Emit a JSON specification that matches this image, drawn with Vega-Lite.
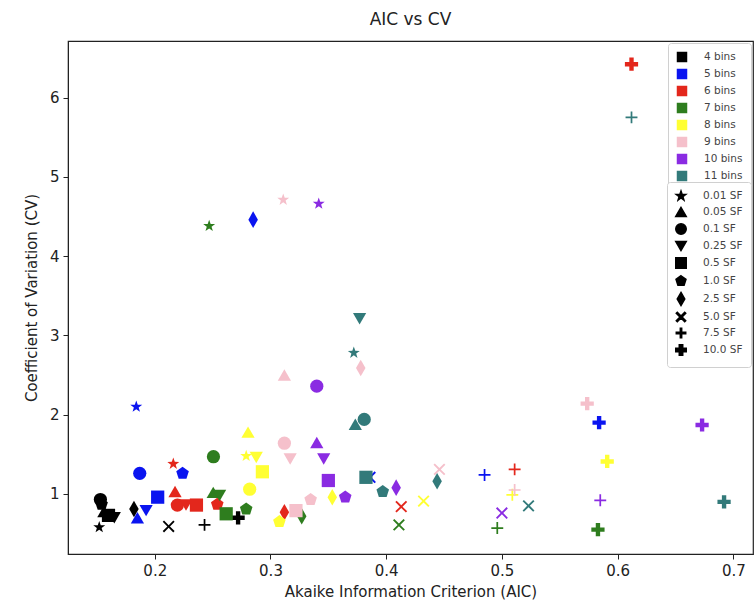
{
  "$schema": "https://vega.github.io/schema/vega-lite/v6.json",
  "width": 685,
  "height": 513,
  "autosize": {"type": "none"},
  "padding": {"left": 68, "top": 41, "right": 2, "bottom": 62},
  "background": "white",
  "title": {"text": "AIC vs CV", "fontSize": 17, "font": "DejaVu Sans", "fontWeight": "normal", "color": "#222", "offset": 12},
  "config": {
    "font": "DejaVu Sans",
    "view": {"stroke": "#222", "strokeWidth": 1.2},
    "axis": {"grid": false, "domainColor": "#222", "tickColor": "#222", "labelColor": "#222", "titleColor": "#222", "labelFontSize": 15, "titleFontSize": 15, "titleFontWeight": "normal", "tickSize": 5},
    "legend": {"labelFontSize": 10.5, "labelColor": "#444", "padding": 8, "labelOffset": 16, "strokeColor": "#d0d0d0", "fillColor": "white", "cornerRadius": 3, "rowPadding": 5}
  },
  "data": {"values": [
    {"aic": 0.152, "cv": 0.58, "bins": "4 bins", "sf": "0.01 SF"},
    {"aic": 0.156, "cv": 0.78, "bins": "4 bins", "sf": "0.05 SF"},
    {"aic": 0.153, "cv": 0.93, "bins": "4 bins", "sf": "0.1 SF"},
    {"aic": 0.165, "cv": 0.70, "bins": "4 bins", "sf": "0.25 SF"},
    {"aic": 0.160, "cv": 0.73, "bins": "4 bins", "sf": "0.5 SF"},
    {"aic": 0.154, "cv": 0.87, "bins": "4 bins", "sf": "1.0 SF"},
    {"aic": 0.182, "cv": 0.81, "bins": "4 bins", "sf": "2.5 SF"},
    {"aic": 0.212, "cv": 0.59, "bins": "4 bins", "sf": "5.0 SF"},
    {"aic": 0.243, "cv": 0.61, "bins": "4 bins", "sf": "7.5 SF"},
    {"aic": 0.272, "cv": 0.70, "bins": "4 bins", "sf": "10.0 SF"},
    {"aic": 0.184, "cv": 2.10, "bins": "5 bins", "sf": "0.01 SF"},
    {"aic": 0.185, "cv": 0.70, "bins": "5 bins", "sf": "0.05 SF"},
    {"aic": 0.187, "cv": 1.26, "bins": "5 bins", "sf": "0.1 SF"},
    {"aic": 0.1925, "cv": 0.79, "bins": "5 bins", "sf": "0.25 SF"},
    {"aic": 0.2025, "cv": 0.96, "bins": "5 bins", "sf": "0.5 SF"},
    {"aic": 0.224, "cv": 1.26, "bins": "5 bins", "sf": "1.0 SF"},
    {"aic": 0.285, "cv": 4.46, "bins": "5 bins", "sf": "2.5 SF"},
    {"aic": 0.386, "cv": 1.21, "bins": "5 bins", "sf": "5.0 SF"},
    {"aic": 0.485, "cv": 1.24, "bins": "5 bins", "sf": "7.5 SF"},
    {"aic": 0.584, "cv": 1.90, "bins": "5 bins", "sf": "10.0 SF"},
    {"aic": 0.216, "cv": 1.38, "bins": "6 bins", "sf": "0.01 SF"},
    {"aic": 0.2175, "cv": 1.03, "bins": "6 bins", "sf": "0.05 SF"},
    {"aic": 0.2195, "cv": 0.86, "bins": "6 bins", "sf": "0.1 SF"},
    {"aic": 0.227, "cv": 0.86, "bins": "6 bins", "sf": "0.25 SF"},
    {"aic": 0.236, "cv": 0.86, "bins": "6 bins", "sf": "0.5 SF"},
    {"aic": 0.254, "cv": 0.87, "bins": "6 bins", "sf": "1.0 SF"},
    {"aic": 0.312, "cv": 0.77, "bins": "6 bins", "sf": "2.5 SF"},
    {"aic": 0.413, "cv": 0.84, "bins": "6 bins", "sf": "5.0 SF"},
    {"aic": 0.511, "cv": 1.31, "bins": "6 bins", "sf": "7.5 SF"},
    {"aic": 0.612, "cv": 6.42, "bins": "6 bins", "sf": "10.0 SF"},
    {"aic": 0.247, "cv": 4.38, "bins": "7 bins", "sf": "0.01 SF"},
    {"aic": 0.2505, "cv": 1.02, "bins": "7 bins", "sf": "0.05 SF"},
    {"aic": 0.2507, "cv": 1.47, "bins": "7 bins", "sf": "0.1 SF"},
    {"aic": 0.256, "cv": 0.98, "bins": "7 bins", "sf": "0.25 SF"},
    {"aic": 0.2617, "cv": 0.75, "bins": "7 bins", "sf": "0.5 SF"},
    {"aic": 0.279, "cv": 0.81, "bins": "7 bins", "sf": "1.0 SF"},
    {"aic": 0.327, "cv": 0.72, "bins": "7 bins", "sf": "2.5 SF"},
    {"aic": 0.411, "cv": 0.61, "bins": "7 bins", "sf": "5.0 SF"},
    {"aic": 0.496, "cv": 0.57, "bins": "7 bins", "sf": "7.5 SF"},
    {"aic": 0.583, "cv": 0.55, "bins": "7 bins", "sf": "10.0 SF"},
    {"aic": 0.279, "cv": 1.48, "bins": "8 bins", "sf": "0.01 SF"},
    {"aic": 0.2806, "cv": 1.78, "bins": "8 bins", "sf": "0.05 SF"},
    {"aic": 0.282, "cv": 1.06, "bins": "8 bins", "sf": "0.1 SF"},
    {"aic": 0.2877, "cv": 1.46, "bins": "8 bins", "sf": "0.25 SF"},
    {"aic": 0.293, "cv": 1.28, "bins": "8 bins", "sf": "0.5 SF"},
    {"aic": 0.3077, "cv": 0.65, "bins": "8 bins", "sf": "1.0 SF"},
    {"aic": 0.3534, "cv": 0.96, "bins": "8 bins", "sf": "2.5 SF"},
    {"aic": 0.4323, "cv": 0.91, "bins": "8 bins", "sf": "5.0 SF"},
    {"aic": 0.509, "cv": 0.99, "bins": "8 bins", "sf": "7.5 SF"},
    {"aic": 0.591, "cv": 1.41, "bins": "8 bins", "sf": "10.0 SF"},
    {"aic": 0.311, "cv": 4.71, "bins": "9 bins", "sf": "0.01 SF"},
    {"aic": 0.312, "cv": 2.50, "bins": "9 bins", "sf": "0.05 SF"},
    {"aic": 0.312, "cv": 1.64, "bins": "9 bins", "sf": "0.1 SF"},
    {"aic": 0.317, "cv": 1.44, "bins": "9 bins", "sf": "0.25 SF"},
    {"aic": 0.322, "cv": 0.79, "bins": "9 bins", "sf": "0.5 SF"},
    {"aic": 0.3347, "cv": 0.93, "bins": "9 bins", "sf": "1.0 SF"},
    {"aic": 0.378, "cv": 2.59, "bins": "9 bins", "sf": "2.5 SF"},
    {"aic": 0.446, "cv": 1.31, "bins": "9 bins", "sf": "5.0 SF"},
    {"aic": 0.511, "cv": 1.05, "bins": "9 bins", "sf": "7.5 SF"},
    {"aic": 0.5737, "cv": 2.14, "bins": "9 bins", "sf": "10.0 SF"},
    {"aic": 0.3417, "cv": 4.66, "bins": "10 bins", "sf": "0.01 SF"},
    {"aic": 0.340, "cv": 1.65, "bins": "10 bins", "sf": "0.05 SF"},
    {"aic": 0.340, "cv": 2.36, "bins": "10 bins", "sf": "0.1 SF"},
    {"aic": 0.346, "cv": 1.44, "bins": "10 bins", "sf": "0.25 SF"},
    {"aic": 0.350, "cv": 1.17, "bins": "10 bins", "sf": "0.5 SF"},
    {"aic": 0.3646, "cv": 0.96, "bins": "10 bins", "sf": "1.0 SF"},
    {"aic": 0.4086, "cv": 1.08, "bins": "10 bins", "sf": "2.5 SF"},
    {"aic": 0.500, "cv": 0.76, "bins": "10 bins", "sf": "5.0 SF"},
    {"aic": 0.585, "cv": 0.92, "bins": "10 bins", "sf": "7.5 SF"},
    {"aic": 0.673, "cv": 1.87, "bins": "10 bins", "sf": "10.0 SF"},
    {"aic": 0.372, "cv": 2.78, "bins": "11 bins", "sf": "0.01 SF"},
    {"aic": 0.3733, "cv": 1.88, "bins": "11 bins", "sf": "0.05 SF"},
    {"aic": 0.381, "cv": 1.94, "bins": "11 bins", "sf": "0.1 SF"},
    {"aic": 0.377, "cv": 3.21, "bins": "11 bins", "sf": "0.25 SF"},
    {"aic": 0.3825, "cv": 1.21, "bins": "11 bins", "sf": "0.5 SF"},
    {"aic": 0.397, "cv": 1.03, "bins": "11 bins", "sf": "1.0 SF"},
    {"aic": 0.444, "cv": 1.16, "bins": "11 bins", "sf": "2.5 SF"},
    {"aic": 0.523, "cv": 0.85, "bins": "11 bins", "sf": "5.0 SF"},
    {"aic": 0.612, "cv": 5.75, "bins": "11 bins", "sf": "7.5 SF"},
    {"aic": 0.692, "cv": 0.90, "bins": "11 bins", "sf": "10.0 SF"}
  ]},
  "mark": {"type": "point", "filled": true, "size": 175, "opacity": 1},
  "encoding": {
    "x": {"field": "aic", "type": "quantitative", "title": "Akaike Information Criterion (AIC)",
      "scale": {"domain": [0.125, 0.717], "nice": false, "zero": false},
      "axis": {"values": [0.2, 0.3, 0.4, 0.5, 0.6, 0.7], "format": ".1f", "labelPadding": 4, "titlePadding": 6}},
    "y": {"field": "cv", "type": "quantitative", "title": "Coefficient of Variation (CV)",
      "scale": {"domain": [0.243, 6.713], "nice": false, "zero": false},
      "axis": {"values": [1, 2, 3, 4, 5, 6], "format": "d", "labelPadding": 4, "titlePadding": 10}},
    "color": {"field": "bins", "type": "nominal",
      "scale": {"domain": ["4 bins", "5 bins", "6 bins", "7 bins", "8 bins", "9 bins", "10 bins", "11 bins"],
        "range": ["#000000", "#0a14f0", "#e3271c", "#2e7d1e", "#ffff33", "#f5c0cb", "#8a2be2", "#327a7a"]},
      "legend": {"title": null, "orient": "top-right", "symbolType": "square", "symbolSize": 110, "offset": 2, "zindex": 1}},
    "shape": {"field": "sf", "type": "nominal",
      "scale": {"domain": ["0.01 SF", "0.05 SF", "0.1 SF", "0.25 SF", "0.5 SF", "1.0 SF", "2.5 SF", "5.0 SF", "7.5 SF", "10.0 SF"],
        "range": [
          "M0,-0.95L0.224,-0.308L0.903,-0.294L0.361,0.118L0.559,0.769L0,0.38L-0.559,0.769L-0.361,0.118L-0.903,-0.294L-0.224,-0.308Z",
          "triangle-up",
          "circle",
          "triangle-down",
          "square",
          "M0,-1L0.951,-0.309L0.588,0.809L-0.588,0.809L-0.951,-0.309Z",
          "M0,-1.25L0.72,0L0,1.25L-0.72,0Z",
          "M-0.9,-0.7L-0.7,-0.9L0,-0.2L0.7,-0.9L0.9,-0.7L0.2,0L0.9,0.7L0.7,0.9L0,0.2L-0.7,0.9L-0.9,0.7L-0.2,0Z",
          "M-0.13,-0.9H0.13V-0.13H0.9V0.13H0.13V0.9H-0.13V0.13H-0.9V-0.13H-0.13Z",
          "M-0.33,-1H0.33V-0.33H1V0.33H0.33V1H-0.33V0.33H-1V-0.33H-0.33Z"
        ]},
      "legend": {"title": null, "orient": "none", "legendX": 599, "legendY": 141, "symbolFillColor": "black", "symbolStrokeColor": "black", "symbolSize": 110, "rowPadding": 0, "zindex": 1}}
  }
}
